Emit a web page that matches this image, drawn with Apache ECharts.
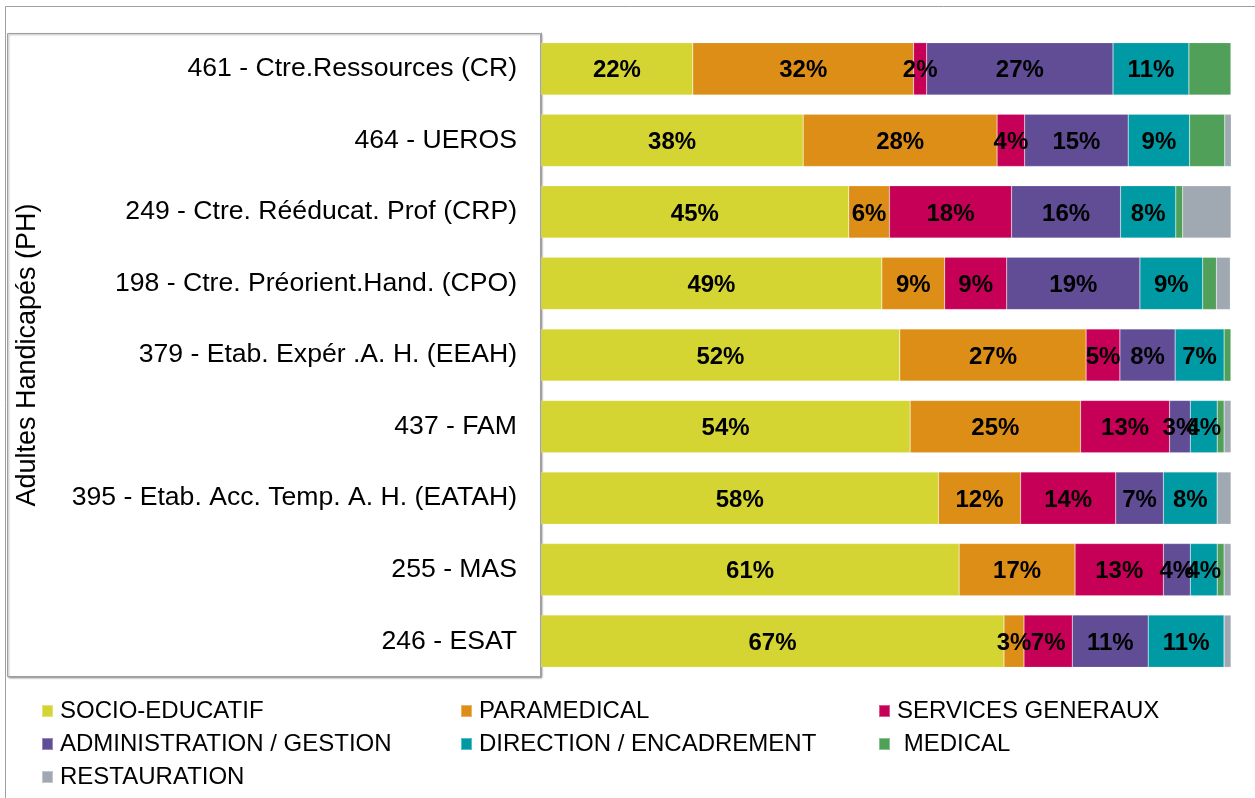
<!DOCTYPE html>
<html>
<head>
<meta charset="utf-8">
<script src="https://cdn.jsdelivr.net/npm/echarts@6/dist/echarts.min.js"></script>
<style>
  html, body { margin: 0; padding: 0; background: #fff; }
  #chart { width: 1255px; height: 798px; }
</style>
</head>
<body>
<div id="chart"></div>
<script>
// établissements (de haut en bas)
const categories = [
  '461 - Ctre.Ressources (CR)',
  '464 - UEROS',
  '249 - Ctre. Rééducat. Prof (CRP)',
  '198 - Ctre. Préorient.Hand. (CPO)',
  '379 - Etab. Expér .A. H. (EEAH)',
  '437 - FAM',
  '395 - Etab. Acc. Temp. A. H. (EATAH)',
  '255 - MAS',
  '246 - ESAT'
]

// parts en % par type de personnel
const socioEducatif = [22, 38, 44.6, 49.4, 52, 53.5, 57.6, 60.6, 67.1]
const paramedical   = [32, 28.1, 5.9, 9.1, 27, 24.7, 11.9, 16.8, 2.9]
const servicesGen   = [1.9, 4, 17.7, 9, 4.9, 12.9, 13.8, 12.8, 7]
const administration = [27, 15, 15.8, 19.3, 8, 3, 6.9, 3.9, 11]
const direction     = [11, 8.9, 8, 9.1, 7.1, 3.9, 7.8, 3.9, 11]
const medical       = [6.1, 5.1, 1, 2, 1, 1, 0, 1, 0]
const restauration  = [0, 1, 7, 2, 0, 1, 2, 1, 1]

const seriesNames = ['SOCIO-EDUCATIF', 'PARAMEDICAL', 'SERVICES GENERAUX',
  'ADMINISTRATION / GESTION', 'DIRECTION / ENCADREMENT', ' MEDICAL', 'RESTAURATION']
const seriesData = [socioEducatif, paramedical, servicesGen, administration, direction, medical, restauration]
const colors = ['#D4D533', '#DD8E17', '#C70057', '#614C96', '#009AA4', '#50A05A', '#A0A9B2']
const showLabel = [true, true, true, true, true, false, false]

const myChart = echarts.init(document.getElementById('chart'))

const legendBase = {
  orient: 'vertical',
  top: 699,
  padding: 0,
  itemWidth: 11,
  itemHeight: 12,
  itemGap: 9,
  icon: 'rect',
  textStyle: { fontSize: 24, color: '#000', fontFamily: 'Liberation Sans', padding: [0, 0, 0, 2] }
}

const option = {
  animation: false,
  textStyle: { fontFamily: 'Liberation Sans' },
  color: colors,
  grid: { left: 541, right: 24, top: 33, height: 644 },
  graphic: [
    {
      type: 'rect',
      shape: { x: 5.5, y: 6.5, width: 1260, height: 800 },
      style: { fill: 'none', stroke: '#A0A0A0', lineWidth: 1 }
    },
    {
      type: 'rect',
      shape: { x: 7.5, y: 33.5, width: 533, height: 643 },
      style: {
        fill: '#fff', stroke: '#A0A0A0', lineWidth: 1,
        shadowBlur: 2, shadowColor: 'rgba(0,0,0,0.35)', shadowOffsetX: 1, shadowOffsetY: 1
      },
      z: -1
    }
  ],
  legend: [
    Object.assign({}, legendBase, { left: 41, data: [seriesNames[0], seriesNames[3], seriesNames[6]] }),
    Object.assign({}, legendBase, { left: 460, data: [seriesNames[1], seriesNames[4]] }),
    Object.assign({}, legendBase, { left: 878, data: [seriesNames[2], seriesNames[5]] })
  ],
  xAxis: {
    type: 'value',
    min: 0,
    max: 100,
    show: false
  },
  yAxis: {
    type: 'category',
    inverse: true,
    data: categories,
    name: 'Adultes Handicapés (PH)',
    nameLocation: 'middle',
    nameRotate: 90,
    nameGap: 500,
    nameTextStyle: { fontSize: 27, color: '#000' },
    axisLine: { show: true, lineStyle: { color: '#A0A0A0' } },
    axisTick: { show: false },
    axisLabel: { fontSize: 26.6, color: '#000', margin: 24, padding: [5, 0, 0, 0] }
  },
  series: seriesData.map((d, i) => ({
    name: seriesNames[i],
    type: 'bar',
    stack: 'total',
    barCategoryGap: '27%',
    data: d,
    itemStyle: { color: colors[i], borderColor: 'rgba(255,255,255,0.35)', borderWidth: 0.5 },
    label: {
      show: showLabel[i],
      position: 'inside',
      offset: [0, 2],
      fontSize: 24,
      fontWeight: 'bold',
      color: '#000',
      formatter: p => Math.round(p.value) + '%'
    }
  }))
}

myChart.setOption(option)

window.addEventListener('resize', () => {
  myChart.resize()
})
</script>
</body>
</html>
